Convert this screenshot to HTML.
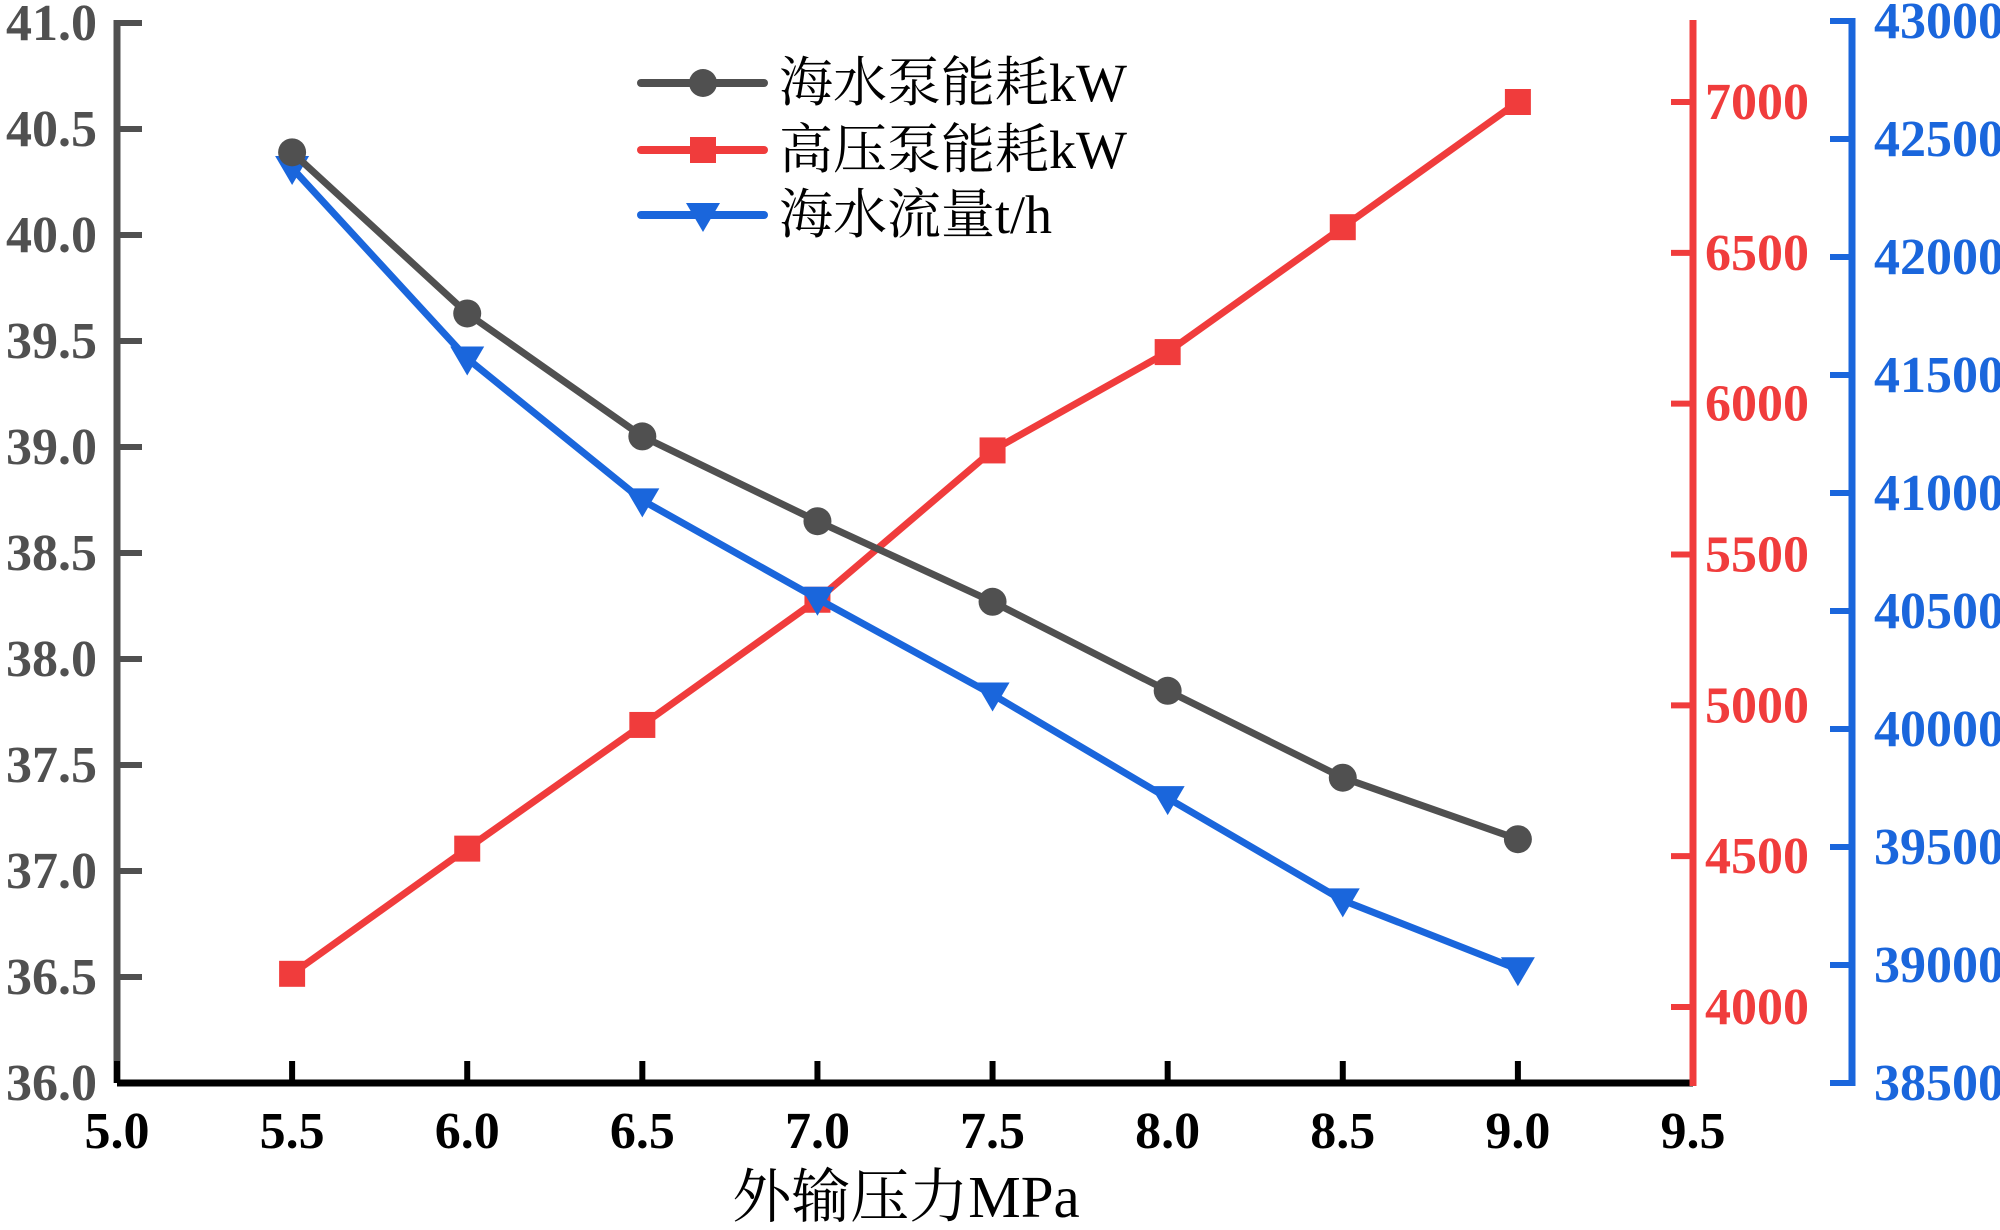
<!DOCTYPE html>
<html><head><meta charset="utf-8"><style>
html,body{margin:0;padding:0;background:#fff;}
svg{display:block;}
text{font-family:"Liberation Serif","Noto Serif CJK SC",serif;}
</style></head><body>
<svg id="chart" width="2000" height="1230" viewBox="0 0 2000 1230" xmlns="http://www.w3.org/2000/svg">
<g id="axes"></g><g id="series"></g><g id="legend"></g>
</svg>
<script>
const xCats = [5.5, 6.0, 6.5, 7.0, 7.5, 8.0, 8.5, 9.0];
const seawaterPower = [40.39, 39.63, 39.05, 38.65, 38.27, 37.85, 37.44, 37.15];
const hpPumpPower = [4110, 4525, 4935, 5350, 5845, 6171, 6585, 7000];
const seawaterFlow = [42377, 41570, 40969, 40552, 40146, 39707, 39274, 38982];
const xTicks = [5.0, 5.5, 6.0, 6.5, 7.0, 7.5, 8.0, 8.5, 9.0, 9.5];
const leftTicks = [36.0, 36.5, 37.0, 37.5, 38.0, 38.5, 39.0, 39.5, 40.0, 40.5, 41.0];
const redTicks = [4000, 4500, 5000, 5500, 6000, 6500, 7000];
const blueTicks = [38500, 39000, 39500, 40000, 40500, 41000, 41500, 42000, 42500, 43000];

const NS = "http://www.w3.org/2000/svg";
const X0 = 117, X1 = 1693, YB = 1083, YT = 23;
const xs = v => X0 + (v - 5.0) / 4.5 * (X1 - X0);
const yL = v => YB - (v - 36) / 5 * (YB - YT);
const yR = v => 1007 - (v - 4000) / 3000 * (1007 - 102);
const yB = v => YB - (v - 38500) / 4500 * (YB - 21);

function mk(tag, attrs, parent) {
  const e = document.createElementNS(NS, tag);
  for (const k in attrs) e.setAttribute(k, attrs[k]);
  parent.appendChild(e);
  return e;
}
const axes = document.getElementById('axes');
const series = document.getElementById('series');
const legend = document.getElementById('legend');
const FS = 52;

let g = mk('g', {}, axes);


mk('line', {x1: X0, y1: YT - 3, x2: X0, y2: YB, stroke: '#505050', 'stroke-width': 7}, g);
leftTicks.forEach(t => {
  const y = yL(t);
  mk('line', {x1: X0, y1: y, x2: X0 + 25, y2: y, stroke: '#505050', 'stroke-width': 6}, g);
  const tx = mk('text', {x: 97, y: y + 17, 'text-anchor': 'end', 'font-size': FS, 'font-weight': 'bold', fill: '#505050'}, g);
  tx.textContent = t.toFixed(1);
  
  
});
g = mk('g', {}, axes);


mk('line', {x1: X0, y1: YB, x2: X1, y2: YB, stroke: '#000', 'stroke-width': 7}, g);
xTicks.forEach(t => {
  const x = xs(t);
  mk('line', {x1: x, y1: YB, x2: x, y2: YB - 22, stroke: '#000', 'stroke-width': 6}, g);
  const tx = mk('text', {x: x, y: YB + 65, 'text-anchor': 'middle', 'font-size': FS, 'font-weight': 'bold', fill: '#000'}, g);
  tx.textContent = t.toFixed(1);
  
  
});
const xt = mk('text', {x: 906, y: 1217, 'text-anchor': 'middle', 'font-size': 59, fill: '#000'}, g);
xt.textContent = '外输压力MPa';


g = mk('g', {}, axes);


mk('line', {x1: X1, y1: YT - 3, x2: X1, y2: YB + 3, stroke: '#f03c3c', 'stroke-width': 7}, g);
redTicks.forEach(t => {
  const y = yR(t);
  mk('line', {x1: X1, y1: y, x2: X1 - 22, y2: y, stroke: '#f03c3c', 'stroke-width': 6}, g);
  const tx = mk('text', {x: 1705, y: y + 17, 'font-size': FS, 'font-weight': 'bold', fill: '#f03c3c'}, g);
  tx.textContent = t;
  
  
});
g = mk('g', {}, axes);


const BX = 1852;
mk('line', {x1: BX, y1: YT - 5, x2: BX, y2: YB + 3, stroke: '#1a66dc', 'stroke-width': 7}, g);
blueTicks.forEach(t => {
  const y = yB(t);
  mk('line', {x1: BX, y1: y, x2: BX - 22, y2: y, stroke: '#1a66dc', 'stroke-width': 6}, g);
  const tx = mk('text', {x: 1874, y: y + 17, 'font-size': FS, 'font-weight': 'bold', fill: '#1a66dc'}, g);
  tx.textContent = t;
  
  
});

function marker(type, x, y, color, parent) {
  if (type === 'circle') return mk('circle', {cx: x, cy: y, r: 14, fill: color}, parent);
  if (type === 'square') return mk('rect', {x: x - 13, y: y - 13, width: 26, height: 26, fill: color}, parent);
  return mk('polygon', {points: `${x-17},${y-12} ${x+17},${y-12} ${x},${y+17}`, fill: color}, parent);
}
function drawSeries(name, vals, yf, color, type) {
  const sg = mk('g', {}, series);
  
  
  const pts = vals.map((v, i) => `${xs(xCats[i])},${yf(v)}`).join(' ');
  mk('polyline', {points: pts, fill: 'none', stroke: color, 'stroke-width': 7, 'stroke-linejoin': 'round'}, sg);
  vals.forEach((v, i) => {
    const m = marker(type, xs(xCats[i]), yf(v), color, sg);
    
    
  });
}
drawSeries('hp-pump-power-series', hpPumpPower, yR, '#f03c3c', 'square');
drawSeries('seawater-flow-series', seawaterFlow, yB, '#1a66dc', 'triangle');
drawSeries('seawater-pump-power-series', seawaterPower, yL, '#505050', 'circle');

const legItems = [['海水泵能耗kW', '#505050', 'circle'], ['高压泵能耗kW', '#f03c3c', 'square'], ['海水流量t/h', '#1a66dc', 'triangle']];
const legY = [83, 150, 215];
legItems.forEach((it, i) => {
  const lg = mk('g', {}, legend);
  
  
  mk('line', {x1: 641, y1: legY[i], x2: 764, y2: legY[i], stroke: it[1], 'stroke-width': 8, 'stroke-linecap': 'round'}, lg);
  marker(it[2], 703, legY[i], it[1], lg);
  const t = mk('text', {x: 779, y: legY[i] + 18, 'font-size': 54, fill: '#000'}, lg);
  t.textContent = it[0];
});
</script>
</body></html>
